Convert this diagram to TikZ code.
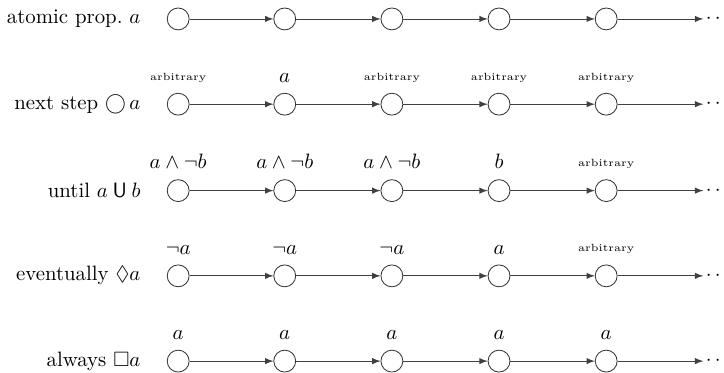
\documentclass[tikz,border=0pt]{standalone}
\usepackage{amssymb}
\usetikzlibrary{positioning}

\begin{document}
\begin{tikzpicture}[
  state/.style={draw=black!80, circle, minimum size=0.37cm, inner sep=0pt},
  trans/.style={-latex, black!75},
  rowname/.style={anchor=east, inner sep=0pt},
  arb/.style={font=\tiny},
  label distance=1.5pt
]
  \useasboundingbox (0,0) rectangle (12.23,-6.30);

  % atomic prop. a
  \node[rowname] (apname) at (2.38,-0.32) {atomic prop.\ $a$};
  \node[state] (ap1) at (3.01,-0.32) {};
  \node[state] (ap2) at (4.81,-0.32) {};
  \node[state] (ap3) at (6.62,-0.32) {};
  \node[state] (ap4) at (8.43,-0.32) {};
  \node[state] (ap5) at (10.24,-0.32) {};
  \coordinate (apend) at (11.88,-0.32);
  \node[inner sep=0pt, right=1pt of apend] (apdots) {$\cdots$};
  \draw (ap1) edge[trans] (ap2) (ap2) edge[trans] (ap3)
        (ap3) edge[trans] (ap4) (ap4) edge[trans] (ap5)
        (ap5) edge[trans] (apend);

  % next step
  \node[rowname] (nxname) at (2.38,-1.76) {next step $\bigcirc\, a$};
  \node[state, label={[arb]above:arbitrary}] (nx1) at (3.01,-1.76) {};
  \node[state, label=above:$a$] (nx2) at (4.81,-1.76) {};
  \node[state, label={[arb]above:arbitrary}] (nx3) at (6.62,-1.76) {};
  \node[state, label={[arb]above:arbitrary}] (nx4) at (8.43,-1.76) {};
  \node[state, label={[arb]above:arbitrary}] (nx5) at (10.24,-1.76) {};
  \coordinate (nxend) at (11.88,-1.76);
  \node[inner sep=0pt, right=1pt of nxend] (nxdots) {$\cdots$};
  \draw (nx1) edge[trans] (nx2) (nx2) edge[trans] (nx3)
        (nx3) edge[trans] (nx4) (nx4) edge[trans] (nx5)
        (nx5) edge[trans] (nxend);

  % until
  \node[rowname] (unname) at (2.38,-3.22) {until $a \mathbin{\mathsf{U}} b$};
  \node[state, label=above:$a \wedge \neg b$] (un1) at (3.01,-3.22) {};
  \node[state, label=above:$a \wedge \neg b$] (un2) at (4.81,-3.22) {};
  \node[state, label=above:$a \wedge \neg b$] (un3) at (6.62,-3.22) {};
  \node[state, label=above:$b$] (un4) at (8.43,-3.22) {};
  \node[state, label={[arb]above:arbitrary}] (un5) at (10.24,-3.22) {};
  \coordinate (unend) at (11.88,-3.22);
  \node[inner sep=0pt, right=1pt of unend] (undots) {$\cdots$};
  \draw (un1) edge[trans] (un2) (un2) edge[trans] (un3)
        (un3) edge[trans] (un4) (un4) edge[trans] (un5)
        (un5) edge[trans] (unend);

  % eventually
  \node[rowname] (evname) at (2.38,-4.66) {eventually $\Diamond a$};
  \node[state, label=above:$\neg a$] (ev1) at (3.01,-4.66) {};
  \node[state, label=above:$\neg a$] (ev2) at (4.81,-4.66) {};
  \node[state, label=above:$\neg a$] (ev3) at (6.62,-4.66) {};
  \node[state, label=above:$a$] (ev4) at (8.43,-4.66) {};
  \node[state, label={[arb]above:arbitrary}] (ev5) at (10.24,-4.66) {};
  \coordinate (evend) at (11.88,-4.66);
  \node[inner sep=0pt, right=1pt of evend] (evdots) {$\cdots$};
  \draw (ev1) edge[trans] (ev2) (ev2) edge[trans] (ev3)
        (ev3) edge[trans] (ev4) (ev4) edge[trans] (ev5)
        (ev5) edge[trans] (evend);

  % always
  \node[rowname] (alname) at (2.38,-6.10) {always $\Box a$};
  \node[state, label=above:$a$] (al1) at (3.01,-6.10) {};
  \node[state, label=above:$a$] (al2) at (4.81,-6.10) {};
  \node[state, label=above:$a$] (al3) at (6.62,-6.10) {};
  \node[state, label=above:$a$] (al4) at (8.43,-6.10) {};
  \node[state, label=above:$a$] (al5) at (10.24,-6.10) {};
  \coordinate (alend) at (11.88,-6.10);
  \node[inner sep=0pt, right=1pt of alend] (aldots) {$\cdots$};
  \draw (al1) edge[trans] (al2) (al2) edge[trans] (al3)
        (al3) edge[trans] (al4) (al4) edge[trans] (al5)
        (al5) edge[trans] (alend);
\end{tikzpicture}
\end{document}
